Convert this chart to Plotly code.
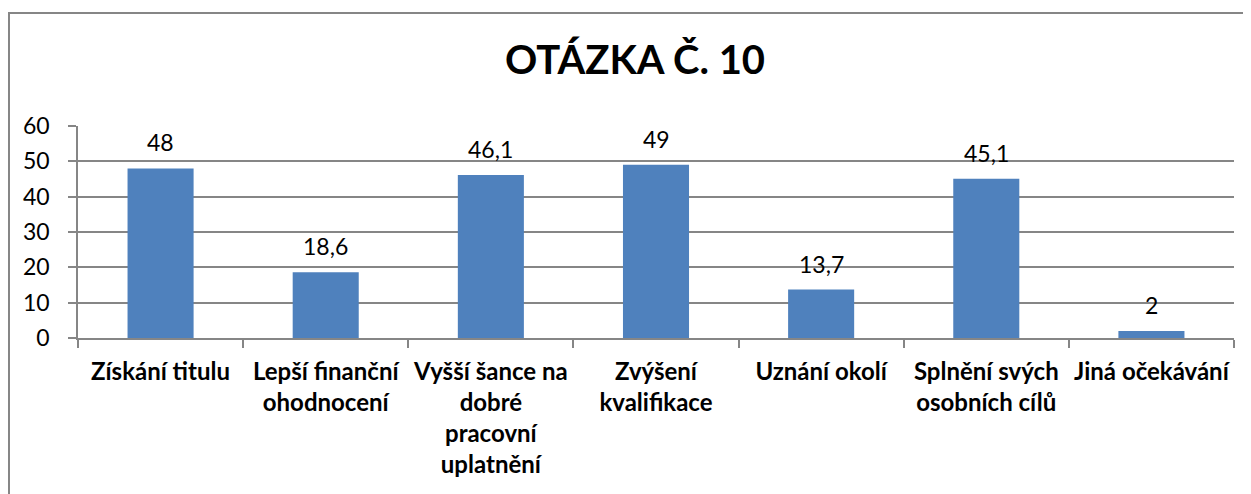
import plotly.graph_objects as go

categories = [
    "Získání titulu",
    "Lepší finanční<br>ohodnocení",
    "Vyšší šance na<br>dobré<br>pracovní<br>uplatnění",
    "Zvýšení<br>kvalifikace",
    "Uznání okolí",
    "Splnění svých<br>osobních cílů",
    "Jiná očekávání",
]
values = [48, 18.6, 46.1, 49, 13.7, 45.1, 2]
y_ticks = [0, 10, 20, 30, 40, 50, 60]
title_text = "OTÁZKA Č. 10"

FONT = "Lato"
GRID = "#868686"
W, H = 1243, 486  # page body has an 8px margin

fig = go.Figure()
fig.add_trace(go.Bar(
    x=categories, y=values,
    marker=dict(color="#4F81BD", line=dict(width=0)),
    width=0.4,
    hoverinfo="skip",
))

for c, v in zip(categories, values):
    fig.add_annotation(
        x=c, y=v, text=str(v).replace(".", ","),
        showarrow=False, yanchor="bottom", yshift=10,
        font=dict(family=FONT, size=23, color="#000000"),
    )

# outer chart border
fig.add_shape(type="rect", xref="paper", yref="paper",
              x0=-0.0597, x1=1.05, y0=-1.0, y1=1.533,
              line=dict(color=GRID, width=2), fillcolor="rgba(0,0,0,0)",
              layer="below")

fig.update_layout(
    template="none",
    width=W, height=H,
    margin=dict(l=70, r=17, t=118, b=156, autoexpand=False),
    paper_bgcolor="white", plot_bgcolor="white",
    showlegend=False,
    title=dict(text="<b>" + title_text + "</b>", x=627/W, xanchor="center",
               y=1 - 52/H, yanchor="middle",
               font=dict(family=FONT, size=40, color="#000000")),
    xaxis=dict(
        type="category", tickson="boundaries", ticks="outside", ticklen=8,
        tickcolor=GRID, tickwidth=1.5,
        showline=True, linecolor=GRID, linewidth=1.5,
        showgrid=False, range=[-0.5, 6.5], automargin=False,
        tickfont=dict(family=FONT, size=24, color="#000000", weight="bold"),
        ticklabelstandoff=11, tickangle=0,
    ),
    yaxis=dict(
        range=[0, 60], tickvals=y_ticks, ticks="outside", ticklen=8,
        tickcolor=GRID, tickwidth=1.5,
        showline=True, linecolor=GRID, linewidth=1.5,
        showgrid=True, gridcolor=GRID, gridwidth=1.5,
        zeroline=False, automargin=False,
        tickfont=dict(family=FONT, size=23, color="#000000"),
        ticklabelstandoff=14,
    ),
)

fig.write_html("out.html")
